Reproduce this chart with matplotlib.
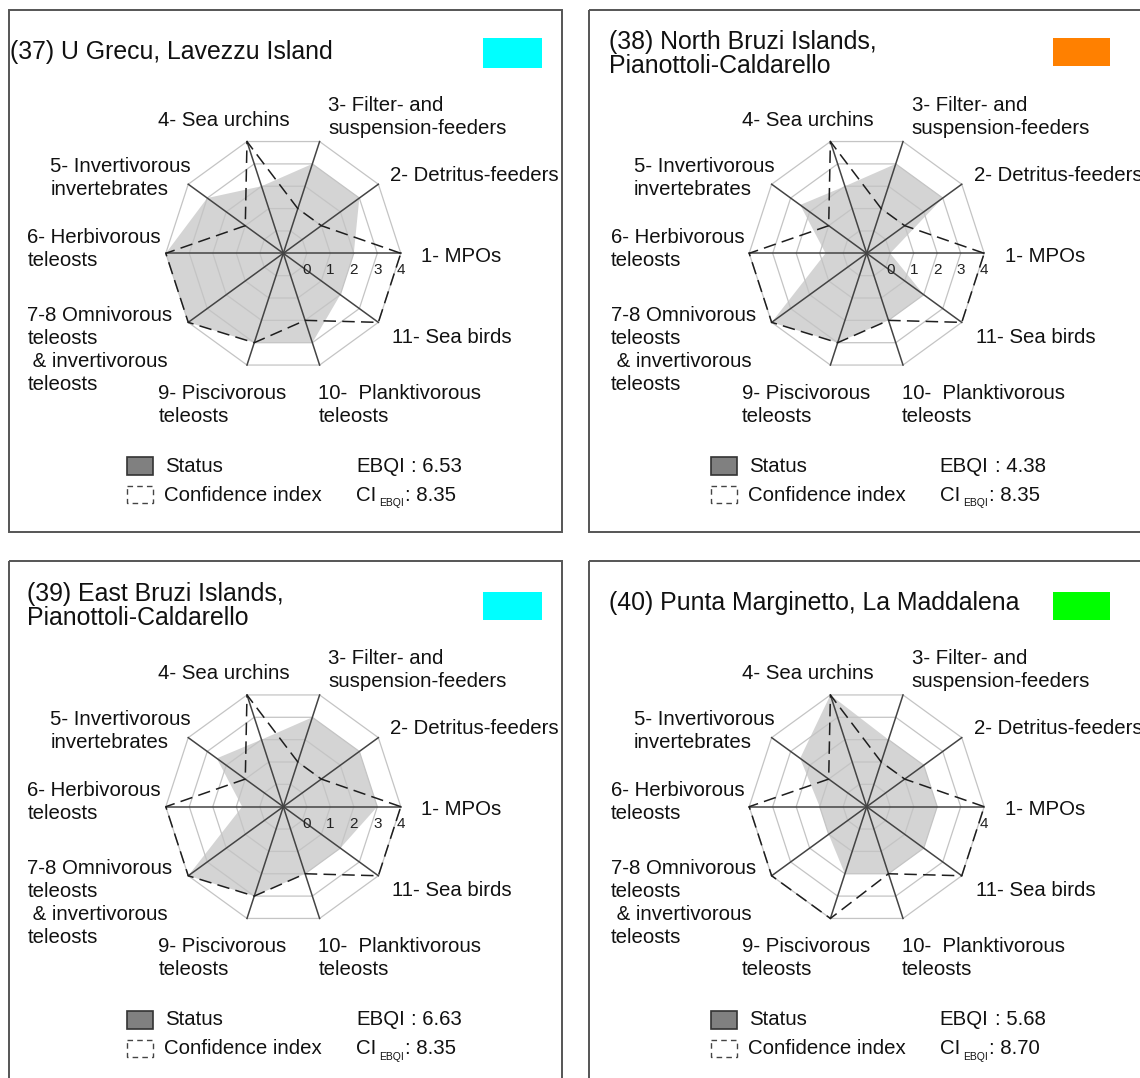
import numpy as np
import matplotlib
matplotlib.use("Agg")
import matplotlib.pyplot as plt
from matplotlib.patches import Rectangle

plt.rcParams['font.family'] = ['Liberation Sans', 'DejaVu Sans']
plt.rcParams['lines.scale_dashes'] = False

W, H = 1140, 1078

# ---- data -------------------------------------------------------------
axis_labels = ["1- MPOs", "2- Detritus-feeders", "3- Filter- and\nsuspension-feeders",
               "4- Sea urchins", "5- Invertivorous\ninvertebrates", "6- Herbivorous\nteleosts",
               "7-8 Omnivorous\nteleosts\n & invertivorous\nteleosts",
               "9- Piscivorous\nteleosts", "10-  Planktivorous\nteleosts", "11- Sea birds"]
ring_values = [0, 1, 2, 3, 4]

titles = ["(37) U Grecu, Lavezzu Island",
          "(38) North Bruzi Islands,\nPianottoli-Caldarello",
          "(39) East Bruzi Islands,\nPianottoli-Caldarello",
          "(40) Punta Marginetto, La Maddalena"]
status_colors = ["#00ffff", "#ff8000", "#00ffff", "#00ff00"]

status_37 = [2, 3, 3, 2, 3, 4, 4, 3, 3, 2]
status_38 = [0, 3, 3, 2, 2.5, 0.75, 4, 3, 2, 2]
status_39 = [3, 3, 3, 2, 2.5, 0.75, 4, 3, 2, 2]
status_40 = [2, 2, 2, 4, 2.5, 1, 1, 2, 2, 2]

ci_37 = [4, 1, 1, 4, 1, 4, 4, 3, 2, 4]
ci_38 = [4, 1, 1, 4, 1, 4, 4, 3, 2, 4]
ci_39 = [4, 1, 1, 4, 1, 4, 4, 3, 2, 4]
ci_40 = [4, 1, 1, 4, 1, 4, 4, 4, 2, 4]

ebqi = [6.53, 4.38, 6.63, 5.68]
ci_ebqi = [8.35, 8.35, 8.35, 8.70]

status_all = [status_37, status_38, status_39, status_40]
ci_all = [ci_37, ci_38, ci_39, ci_40]

# ---- layout (pixels) --------------------------------------------------
box_origin = [(9, 10), (589, 10), (9, 561), (589, 561)]
centers = [(283.3, 253.3), (866.7, 253.3), (283.3, 806.7), (866.7, 806.7)]
title_pos = [(10, 52), (609, 42), (27, 594), (609, 603)]
rect_pos = [(483, 38, 59, 30), (1053, 38, 57, 28), (483, 592, 59, 28), (1053, 592, 57, 28)]
label_offsets = [(138, 3), (107, -78), (45, -148), (-125, -133), (-233, -87),
                 (-256, -16), (-256, 62), (-125, 140), (35, 140), (109, 84)]
R = 117.5
LINE = 23
FS = 14.7
TXT = '#111111'

fig = plt.figure(figsize=(W / 100, H / 100), dpi=100)
bg = fig.add_axes([0, 0, 1, 1])
bg.set_xlim(0, W)
bg.set_ylim(H, 0)
bg.axis('off')

angles = np.deg2rad(np.arange(len(axis_labels)) * 36.0)
ang_c = np.append(angles, angles[0])

for i in range(4):
    bx, by = box_origin[i]
    cx, cy = centers[i]
    bg.add_patch(Rectangle((bx, by), 553, 522, fill=False, ec='#555555', lw=1.4))

    # title and status colour
    tx, ty = title_pos[i]
    for k, line in enumerate(titles[i].split('\n')):
        bg.text(tx, ty + k * 24, line, fontsize=17.9, va='center', ha='left', color=TXT)
    rx, ry, rw, rh = rect_pos[i]
    bg.add_patch(Rectangle((rx, ry), rw, rh, color=status_colors[i], lw=0))

    # axis labels
    for lab, (dx, dy) in zip(axis_labels, label_offsets):
        for k, line in enumerate(lab.split('\n')):
            bg.text(cx + dx, cy + dy + k * LINE, line, fontsize=FS, va='center', ha='left',
                    color=TXT)

    # legend
    lx, ly = cx - 156, cy + 204
    bg.add_patch(Rectangle((lx, ly), 26, 18, fc='#808080', ec='#333333', lw=1.2))
    bg.text(lx + 38, ly + 9, "Status", fontsize=FS, va='center', color=TXT)
    bg.add_patch(Rectangle((lx, ly + 29), 26, 17, fill=False, ec='#444444', lw=1.0,
                           linestyle=(0, (4, 3))))
    bg.text(lx + 37, ly + 38, "Confidence index", fontsize=FS, va='center', color=TXT)
    ex = cx + 73
    bg.text(ex, ly + 9, "EBQI", fontsize=FS, va='center', color=TXT)
    bg.text(ex + 55, ly + 9, ": %.2f" % ebqi[i], fontsize=FS, va='center', color=TXT)
    bg.text(ex, ly + 38, "CI", fontsize=FS, va='center', color=TXT)
    bg.text(ex + 23, ly + 46, "EBQI", fontsize=7.5, va='center', color=TXT)
    bg.text(ex + 49, ly + 38, ": %.2f" % ci_ebqi[i], fontsize=FS, va='center', color=TXT)

    # radar
    ax = fig.add_axes([(cx - R) / W, 1 - (cy + R) / H, 2 * R / W, 2 * R / H], projection='polar')
    ax.set_ylim(-1, 4)
    ax.grid(False)
    ax.set_xticks([])
    ax.set_yticks([])
    ax.spines['polar'].set_visible(False)
    ax.patch.set_visible(False)

    st = status_all[i] + status_all[i][:1]
    ax.fill(ang_c, st, color='#d4d4d4', lw=0, zorder=1)
    for v in ring_values:
        ax.plot(ang_c, [v] * len(ang_c), color='#c4c4c4', lw=0.9, zorder=2, clip_on=False)
    for a in angles:
        ax.plot([a, a], [-1, 4], color='#444444', lw=1.1, zorder=3, clip_on=False)
    ci = ci_all[i] + ci_all[i][:1]
    ax.plot(ang_c, ci, color='#1e1e1e', lw=1.1, dashes=(9, 4.5), zorder=4, clip_on=False)

    shown = ring_values if i < 3 else ring_values[-1:]
    for v in shown:
        ax.annotate(str(v), xy=(0, v), xytext=(0, -17), textcoords='offset pixels',
                    ha='center', va='center', fontsize=11, color='#222222')

fig.savefig('out.png', dpi=100)
